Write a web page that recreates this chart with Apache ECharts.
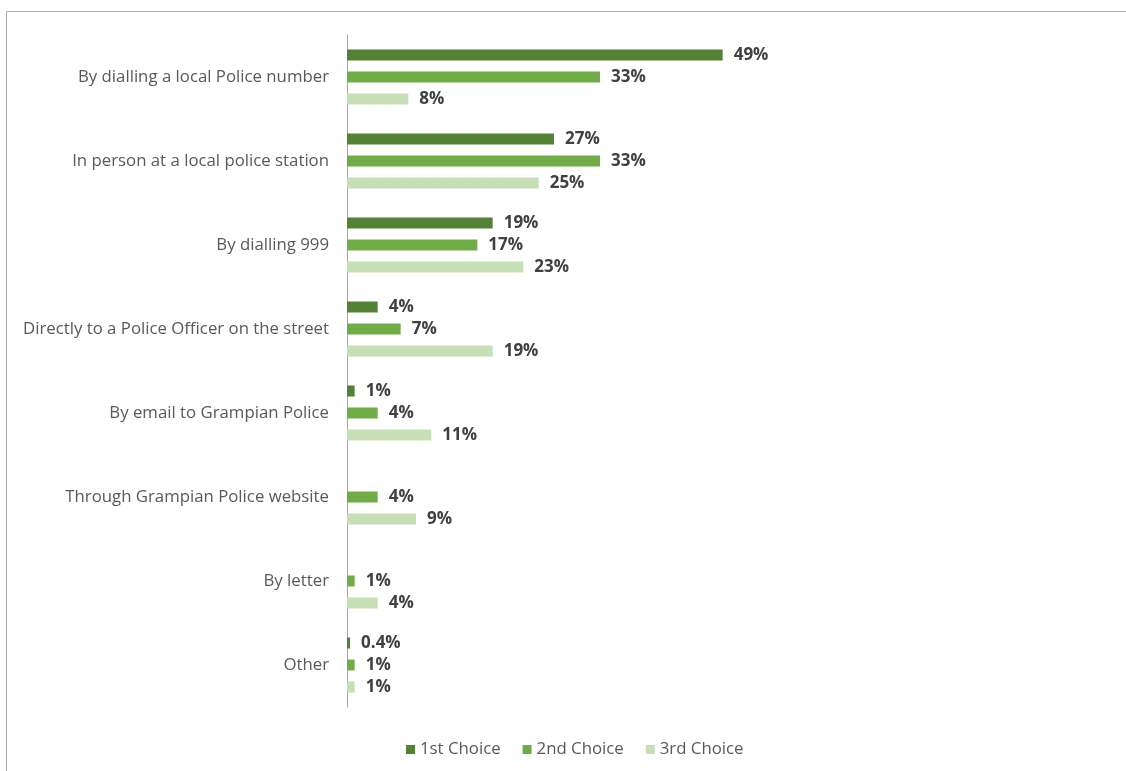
<!DOCTYPE html>
<html>
<head>
<meta charset="utf-8">
<script src="https://cdn.jsdelivr.net/npm/echarts@6/dist/echarts.min.js"></script>
<style>
  html, body { margin: 0; padding: 0; background: #fff; }
  #chart { width: 1126px; height: 771px; }
</style>
</head>
<body>
<div id="chart"></div>
<script>
// Preferred ways of contacting the police, share of respondents (%)
const categories = [
  'By dialling a local Police number',
  'In person at a local police station',
  'By dialling 999',
  'Directly to a Police Officer on the street',
  'By email to Grampian Police',
  'Through Grampian Police website',
  'By letter',
  'Other'
];
const seriesNames = ['1st Choice', '2nd Choice', '3rd Choice'];
const firstChoice  = [49, 27, 19, 4, 1, null, null, 0.4];
const secondChoice = [33, 33, 17, 7, 4, 4, 1, 1];
const thirdChoice  = [8, 25, 23, 19, 11, 9, 4, 1];
const colors = ['#548235', '#70AD47', '#C5E0B4'];

const chart = echarts.init(document.getElementById('chart'), null, { renderer: 'canvas' });
const fontFamily = '"Open Sans", "Liberation Sans", sans-serif';

function makeSeries(name, data, color) {
  return {
    name: name,
    type: 'bar',
    data: data,
    barWidth: 11,
    barGap: '100%',
    itemStyle: { color: color },
    label: {
      show: true,
      position: 'right',
      distance: 11,
      formatter: p => (p.value == null ? '' : p.value + '%'),
      color: '#404040',
      fontWeight: 'bold',
      fontSize: 17,
      fontFamily: fontFamily
    },
    emphasis: { disabled: true }
  };
}

chart.setOption({
  animation: false,
  backgroundColor: '#ffffff',
  graphic: [
    { type: 'line', shape: { x1: 6.5, y1: 11.5, x2: 1126, y2: 11.5 }, style: { stroke: '#ABABAB', lineWidth: 1 } },
    { type: 'line', shape: { x1: 6.5, y1: 11.5, x2: 6.5, y2: 771 }, style: { stroke: '#ABABAB', lineWidth: 1 } }
  ],
  legend: {
    data: seriesNames,
    bottom: 8,
    left: 401,
    itemWidth: 9,
    itemHeight: 9,
    itemGap: 22,
    icon: 'rect',
    textStyle: { color: '#595959', fontSize: 16.8, fontFamily: fontFamily }
  },
  grid: {
    left: 347,
    right: 319,
    top: 35,
    bottom: 64,
    containLabel: false
  },
  xAxis: {
    type: 'value',
    min: 0,
    max: 60,
    show: false,
    splitLine: { show: false }
  },
  yAxis: {
    type: 'category',
    data: categories,
    inverse: true,
    axisLine: { show: true, lineStyle: { color: '#A6A6A6', width: 1 } },
    axisTick: { show: false },
    axisLabel: {
      color: '#595959',
      fontSize: 16.8,
      fontFamily: fontFamily,
      margin: 18
    }
  },
  series: [
    makeSeries(seriesNames[0], firstChoice, colors[0]),
    makeSeries(seriesNames[1], secondChoice, colors[1]),
    makeSeries(seriesNames[2], thirdChoice, colors[2])
  ]
});
</script>
</body>
</html>
